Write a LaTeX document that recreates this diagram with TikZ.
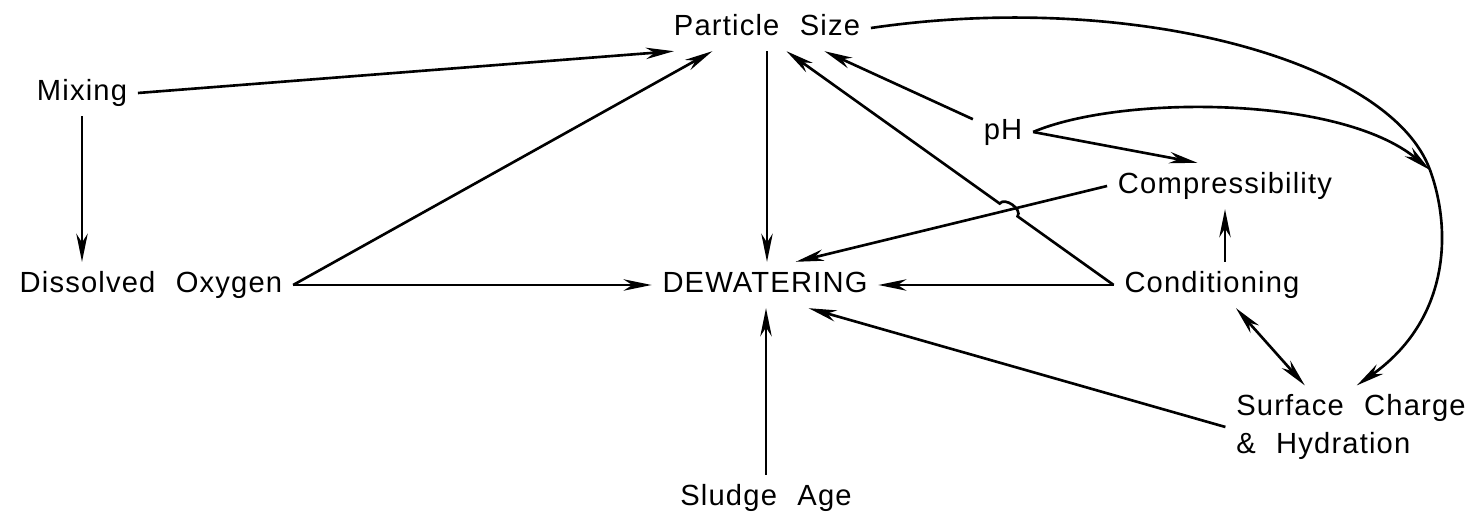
\documentclass[tikz,border=0pt]{standalone}
\usepackage{fontspec}
\setmainfont{Liberation Sans}[LetterSpace=4,WordSpace=2.2]
\usetikzlibrary{arrows.meta,calc,intersections}

\begin{document}
\begin{tikzpicture}[x=0.02cm,y=-0.02cm,
    lbl/.style={inner xsep=6pt,inner ysep=5pt,font=\fontsize{16.6}{21.5}\selectfont},
    tag/.style={lbl,text height=12pt,text depth=4pt},
    arr/.style={line width=1.5pt,-{Stealth[length=16pt,width=6.5pt,inset=5pt]}},
    dbl/.style={line width=1.5pt,{Stealth[length=16pt,width=6.5pt,inset=5pt]}-{Stealth[length=16pt,width=6.5pt,inset=5pt]}}]
    \useasboundingbox (0,0) rectangle (1482,516);

    % Factors
    \node[tag] (ps) at (767,28) {Particle Size};
    \node[tag] (mix) at (82,93) {Mixing};
    \node[tag] (ph) at (1003,132) {pH};
    \node[tag] (comp) at (1225,186) {Compressibility};
    \node[tag] (do) at (151,285) {Dissolved Oxygen};
    \node[tag] (dew) at (765,285) {DEWATERING};
    \node[tag] (cond) at (1212,285) {Conditioning};
    \node[tag] (sa) at (766,498) {Sludge Age};
    \node[lbl,align=left] (sc) at (1351,427) {Surface Charge\\\& Hydration};

    % Mixing
    \draw[arr] (mix.east) -- (ps.-166);
    \draw[arr] (mix.south) -- (mix.south |- do.north);

    % Dissolved oxygen
    \draw[arr] (do.east) -- (ps.-157);
    \draw[arr] (do.east) -- (dew.west);

    % Particle size and sludge age
    \draw[arr] (ps.south) -- (ps.south |- dew.north);
    \draw[arr] (sa.north) -- (sa.north |- dew.south);

    % pH
    \draw[arr] (ph.157) -- (ps.-22);
    \draw[arr] (ph.east) -- (comp.140);
    \coordinate (jn) at (1430,170);
    \draw[arr] (ph.east) .. controls (1120,95) and (1340,95) .. (jn);

    % Compressibility
    \draw[arr, name path=cd] (comp.west) -- (dew.37);

    % Conditioning
    \draw[arr] (cond.west) -- (dew.east);
    \draw[arr] (comp.south |- cond.north) -- (comp.south);
    \draw[dbl] (cond.-44) -- (sc.138);
    \path[name path=cp] (cond.west) -- (ps.-50);
    \path[name intersections={of=cp and cd, by=hop}];
    \draw[arr] (cond.west) -- ($(hop)!0.22cm!(cond.west)$)
        to[bend right=90] ($(hop)!0.22cm!(ps.-50)$) -- (ps.-50);

    % Surface charge
    \draw[arr] (sc.west) -- (dew.-28);
    \draw[arr] (ps.east) .. controls (1130,-10) and (1390,60) .. (jn)
        .. controls (1452,230) and (1450,320) .. (sc.82);
\end{tikzpicture}
\end{document}
